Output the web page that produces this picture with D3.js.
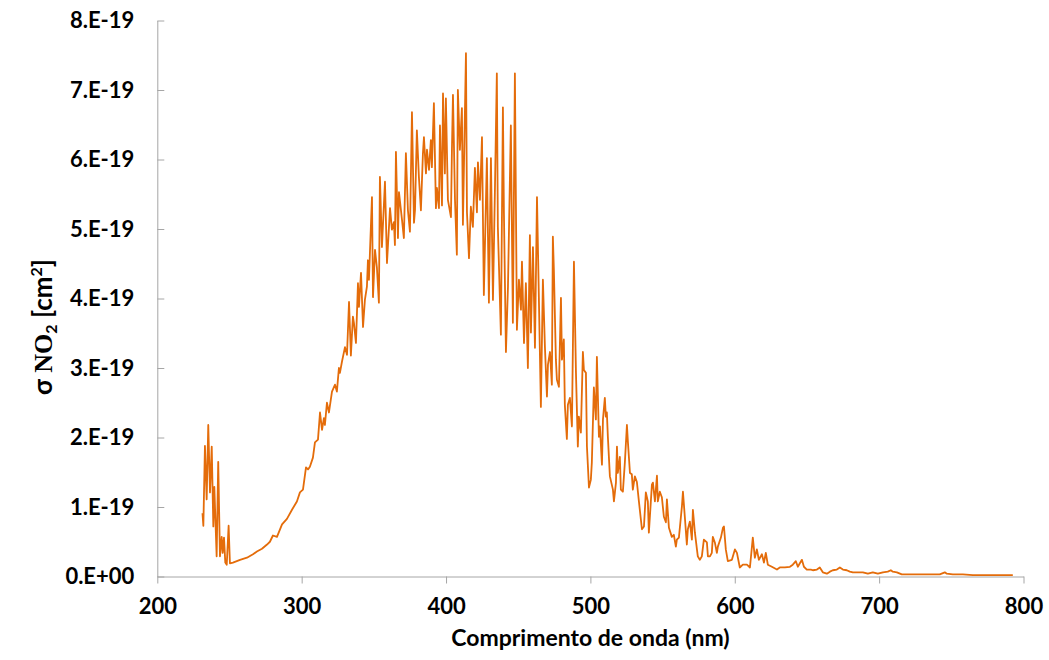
<!DOCTYPE html>
<html>
<head>
<meta charset="utf-8">
<script src="https://cdn.jsdelivr.net/npm/d3@7"></script>
<style>
  html, body { margin: 0; padding: 0; background: #fff; }
  #box { width: 1049px; height: 660px; }
  text { font-family: Lato, "Open Sans", sans-serif; font-weight: bold; fill: #000; }
</style>
</head>
<body>
<div id="box"></div>
<script>
// wavelength (nm)
const wavelength = [
  231.3, 231.9, 233.0, 234.2, 235.3, 236.5, 237.7, 238.8, 239.5, 241.1,
  242.2, 243.4, 244.6, 245.3, 246.2, 247.1, 248.1, 249.4, 250.3, 252.4,
  257.3, 262.1, 266.3, 269.0, 272.5, 276.0, 278.0, 280.1, 282.9, 286.4,
  289.8, 293.3, 296.7, 298.8, 300.9, 303.0, 304.4, 305.7, 307.8, 309.2,
  311.3, 312.7, 314.1, 315.4, 316.1, 317.5, 318.9, 321.0, 323.1, 324.4,
  325.8, 326.5, 327.9, 330.0, 331.4, 332.8, 334.1, 335.5, 336.2, 337.6,
  339.0, 339.7, 341.1, 342.5, 343.8, 345.2, 345.9, 346.6, 348.7, 349.4,
  350.8, 352.1, 353.5, 354.2, 355.6, 357.7, 359.1, 361.2, 362.5, 363.9,
  364.6, 365.3, 366.7, 367.4, 369.5, 370.8, 372.2, 373.6, 375.0, 376.4,
  377.8, 378.5, 379.8, 381.2, 382.6, 384.0, 384.7, 386.1, 386.8, 388.2,
  389.5, 390.2, 391.6, 393.0, 393.7, 395.1, 395.8, 397.2, 397.9, 399.2,
  399.9, 401.3, 403.4, 404.1, 404.8, 406.2, 407.5, 408.2, 409.6, 411.0,
  411.7, 413.8, 414.5, 415.9, 417.2, 418.6, 420.0, 421.4, 422.1, 423.5,
  424.9, 426.2, 428.3, 429.7, 431.1, 432.5, 433.9, 435.2, 435.9, 438.0,
  439.4, 440.1, 441.5, 442.9, 444.9, 446.3, 447.7, 449.1, 450.5, 451.9,
  452.6, 454.0, 455.3, 456.7, 458.1, 458.8, 460.2, 461.6, 463.0, 464.3,
  465.7, 467.1, 468.5, 469.9, 470.6, 472.0, 473.3, 474.0, 474.7, 476.1,
  476.8, 478.2, 479.6, 480.3, 481.6, 482.3, 483.7, 484.4, 485.8, 487.2,
  488.6, 490.0, 491.3, 492.0, 493.4, 494.8, 495.5, 496.9, 497.6, 499.0,
  500.3, 501.0, 502.4, 503.8, 504.5, 505.9, 506.6, 508.0, 508.7, 510.0,
  510.7, 511.4, 512.1, 513.5, 515.6, 516.3, 517.7, 518.4, 519.0, 520.4,
  521.1, 522.5, 523.9, 525.3, 526.0, 527.4, 528.7, 529.4, 530.8, 532.2,
  533.6, 535.7, 537.1, 538.4, 539.8, 540.5, 542.6, 543.3, 544.7, 546.1,
  546.7, 548.1, 549.5, 550.9, 552.3, 553.0, 554.4, 556.4, 557.8, 559.2,
  559.9, 561.3, 563.4, 564.1, 565.4, 566.8, 567.5, 568.9, 570.3, 571.0,
  572.4, 573.8, 574.4, 575.8, 577.2, 578.6, 580.7, 581.4, 582.8, 584.1,
  584.8, 586.2, 587.6, 588.3, 590.4, 591.8, 592.5, 593.8, 595.2, 598.0,
  600.1, 601.5, 603.5, 605.6, 608.4, 610.5, 612.5, 613.9, 615.3, 616.7,
  618.8, 620.2, 621.5, 622.9, 625.7, 629.2, 631.2, 634.7, 638.2, 640.2,
  642.3, 643.7, 646.5, 647.9, 649.9, 652.7, 654.1, 656.9, 658.9, 661.0,
  663.8, 665.9, 667.9, 670.7, 672.8, 674.9, 677.6, 679.7, 681.8, 685.3,
  688.7, 692.2, 695.6, 699.1, 702.6, 706.0, 708.1, 709.5, 712.3, 715.7,
  719.2, 723.3, 728.2, 733.0, 737.2, 742.0, 745.5, 746.9, 751.0, 758.0,
  764.9, 771.8, 778.7, 785.7, 792.6
];

// cross section, in units of 1E-19 cm2
const sigma = [
  0.91, 0.73, 1.88, 1.11, 2.18, 1.21, 1.87, 0.72, 1.29, 0.29,
  1.65, 0.29, 0.57, 0.34, 0.56, 0.20, 0.17, 0.73, 0.19, 0.20,
  0.24, 0.27, 0.32, 0.36, 0.40, 0.46, 0.50, 0.59, 0.57, 0.75,
  0.83, 0.96, 1.08, 1.21, 1.25, 1.57, 1.54, 1.58, 1.71, 1.93,
  1.97, 2.36, 2.11, 2.28, 2.18, 2.50, 2.36, 2.66, 2.76, 2.66,
  3.00, 2.93, 3.09, 3.30, 3.19, 3.95, 3.18, 3.74, 3.65, 3.36,
  4.22, 3.88, 4.37, 3.59, 3.98, 4.17, 4.55, 4.27, 5.46, 4.02,
  4.70, 4.45, 3.94, 5.75, 4.74, 5.68, 4.51, 5.30, 4.99, 5.10,
  4.77, 6.11, 4.87, 5.53, 5.13, 4.87, 6.09, 5.27, 4.96, 6.68,
  5.09, 5.27, 6.42, 5.75, 5.27, 6.09, 6.32, 5.80, 6.14, 5.85,
  6.28, 5.89, 6.81, 5.30, 5.59, 5.30, 6.49, 5.34, 6.95, 5.80,
  6.88, 5.42, 5.17, 6.16, 6.93, 5.42, 4.63, 7.00, 6.14, 6.74,
  5.06, 7.53, 5.24, 4.58, 5.32, 5.03, 5.88, 5.24, 5.96, 5.42,
  6.32, 4.05, 6.02, 3.94, 6.02, 3.98, 5.60, 7.24, 5.03, 3.48,
  6.75, 5.23, 3.23, 4.17, 6.49, 3.65, 7.24, 3.55, 4.27, 3.84,
  4.53, 3.36, 4.22, 3.00, 4.91, 3.51, 4.74, 3.29, 5.46, 4.02,
  2.44, 4.27, 3.30, 2.59, 3.05, 3.23, 2.76, 4.89, 4.41, 3.12,
  2.83, 2.73, 4.01, 3.12, 3.41, 2.47, 1.98, 2.47, 2.57, 2.16,
  4.53, 2.93, 1.87, 2.30, 2.07, 3.23, 2.97, 2.93, 1.87, 1.28,
  1.39, 1.64, 2.72, 2.26, 3.16, 2.01, 2.16, 1.61, 2.26, 2.57,
  2.30, 2.36, 2.01, 1.44, 1.25, 1.08, 1.35, 1.87, 1.49, 1.72,
  1.25, 1.22, 1.65, 2.18, 1.93, 1.49, 1.47, 1.25, 1.44, 1.36,
  1.08, 0.68, 0.72, 1.21, 1.08, 0.63, 1.32, 1.35, 1.08, 1.45,
  1.08, 1.22, 1.14, 0.86, 0.78, 1.11, 0.70, 0.57, 0.60, 0.43,
  0.53, 0.56, 1.01, 1.22, 0.86, 0.46, 0.68, 0.79, 0.53, 0.96,
  0.63, 0.39, 0.29, 0.24, 0.29, 0.53, 0.49, 0.29, 0.29, 0.34,
  0.57, 0.49, 0.34, 0.43, 0.56, 0.70, 0.72, 0.39, 0.22, 0.24,
  0.39, 0.34, 0.13, 0.17, 0.17, 0.13, 0.56, 0.27, 0.39, 0.24,
  0.32, 0.20, 0.34, 0.17, 0.14, 0.10, 0.13, 0.13, 0.14, 0.17,
  0.22, 0.14, 0.24, 0.14, 0.10, 0.10, 0.09, 0.10, 0.13, 0.06,
  0.04, 0.07, 0.09, 0.10, 0.13, 0.10, 0.09, 0.07, 0.06, 0.06,
  0.06, 0.04, 0.06, 0.04, 0.06, 0.07, 0.09, 0.07, 0.06, 0.03,
  0.03, 0.03, 0.03, 0.03, 0.03, 0.03, 0.06, 0.04, 0.03, 0.03,
  0.02, 0.02, 0.02, 0.02, 0.02
];

const xTicks = [200, 300, 400, 500, 600, 700, 800];
const yTicks = [0, 1, 2, 3, 4, 5, 6, 7, 8];
const yTickLabels = ['0.E+00', '1.E-19', '2.E-19', '3.E-19', '4.E-19', '5.E-19', '6.E-19', '7.E-19', '8.E-19'];

const width = 1049;
const height = 660;
const padLeft = 157.3;
const padRight = 25.5;
const padTop = 20.5;
const padBottom = 83.5;
const innerWidth = width - padLeft - padRight;
const innerHeight = height - padTop - padBottom;

const axisColor = '#a6a6a6';
const lineColor = '#e46c0a';

const svg = d3.select('#box').append('svg')
  .attr('width', width)
  .attr('height', height);

const pad = svg.append('g')
  .attr('transform', `translate(${padLeft}, ${padTop})`);

const x = d3.scaleLinear().domain([200, 800]).range([0, innerWidth]);
const y = d3.scaleLinear().domain([0, 8]).range([innerHeight, 0]);

// x axis
const xAxis = pad.append('g')
  .attr('transform', `translate(0, ${innerHeight})`)
  .call(d3.axisBottom(x).tickValues(xTicks).tickSize(7).tickSizeOuter(0).tickPadding(15).tickFormat(d3.format('d')));

// y axis, ticks point inside
const yAxis = pad.append('g')
  .call(d3.axisLeft(y).tickValues(yTicks).tickSizeInner(-7).tickSizeOuter(0).tickPadding(23)
    .tickFormat((d, i) => yTickLabels[i]));

[xAxis, yAxis].forEach(a => {
  a.select('.domain').attr('stroke', axisColor);
  a.selectAll('.tick line').attr('stroke', axisColor);
  a.selectAll('.tick text')
    .attr('fill', '#000')
    .style('font-family', 'Lato, sans-serif')
    .style('font-weight', 'bold')
    .style('font-size', '22px');
});

// spectrum
const line = d3.line()
  .x((d, i) => x(wavelength[i]))
  .y(d => y(d));

pad.append('path')
  .datum(sigma)
  .attr('fill', 'none')
  .attr('stroke', lineColor)
  .attr('stroke-width', 1.8)
  .attr('stroke-linejoin', 'round')
  .attr('d', line);

// axis titles
svg.append('text')
  .attr('x', padLeft + innerWidth / 2)
  .attr('y', 646)
  .attr('text-anchor', 'middle')
  .style('font-size', '23px')
  .text('Comprimento de onda (nm)');

const yTitle = svg.append('text')
  .attr('transform', 'translate(52, 327) rotate(-90)')
  .attr('text-anchor', 'middle')
  .style('font-size', '26px');

yTitle.append('tspan').text('σ ');
yTitle.append('tspan').style('font-family', '"Liberation Serif", serif').text('NO');
yTitle.append('tspan').attr('dy', 5).style('font-size', '16px').text('2');
yTitle.append('tspan').attr('dy', -5).text(' [cm');
yTitle.append('tspan').attr('dy', -10).style('font-size', '16px').text('2');
yTitle.append('tspan').attr('dy', 10).text(']');
</script>
</body>
</html>
